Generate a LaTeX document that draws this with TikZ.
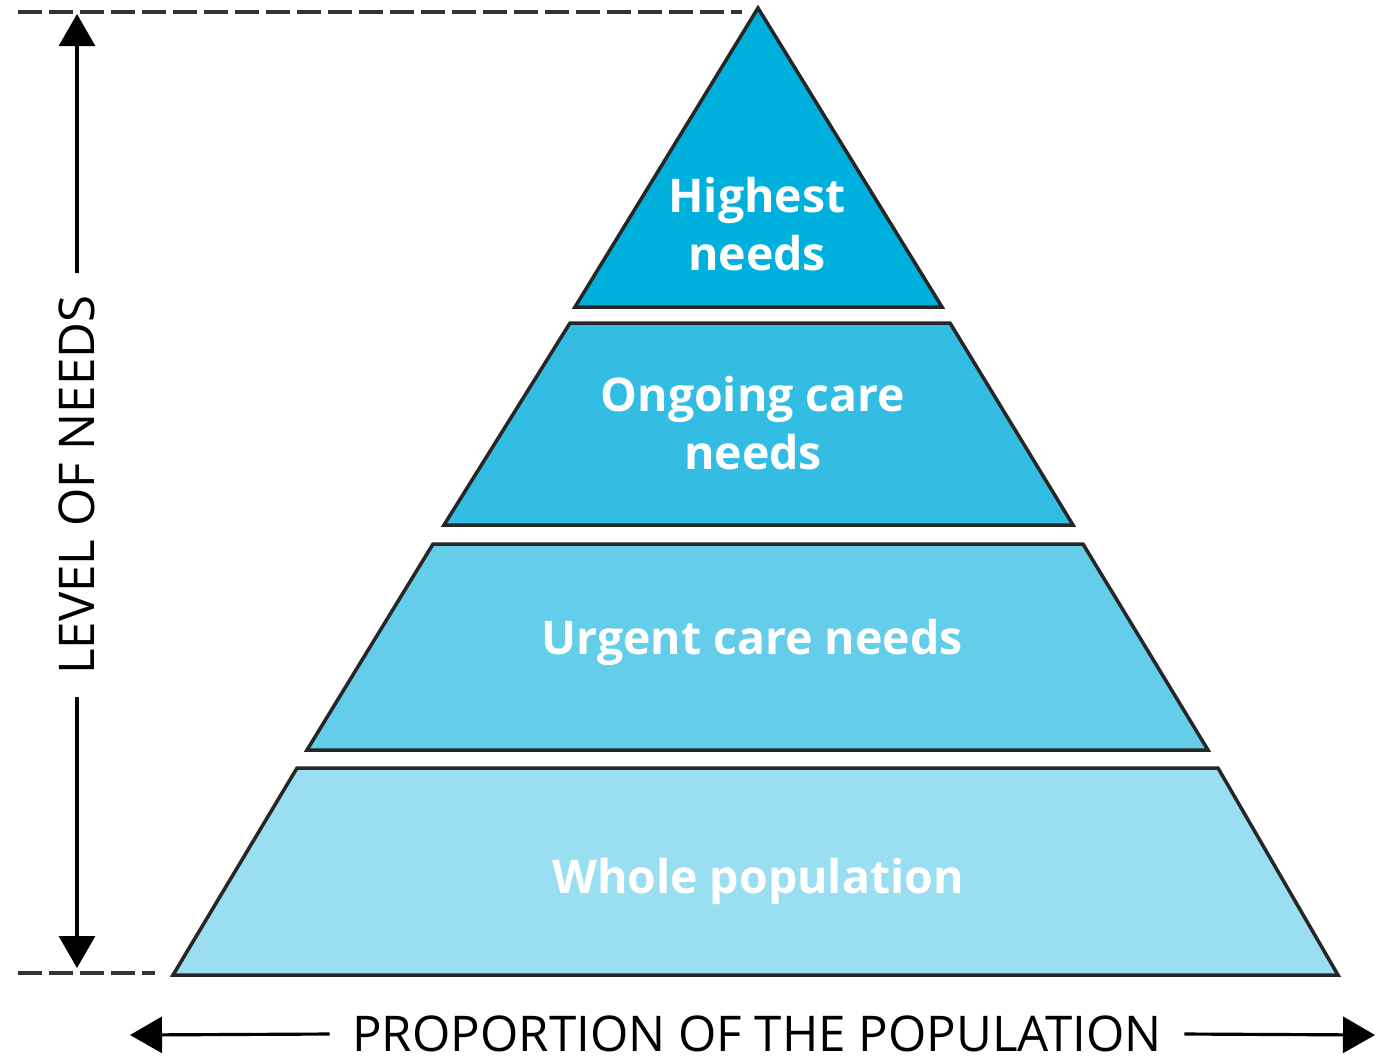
\documentclass[tikz,border=0pt]{standalone}
\usepackage{fontspec}
\setmainfont{Open Sans}
\usetikzlibrary{arrows.meta}

\definecolor{tierA}{HTML}{00B0DC}
\definecolor{tierB}{HTML}{33BDE2}
\definecolor{tierC}{HTML}{63CDEA}
\definecolor{tierD}{HTML}{9ADFF1}

\begin{document}
\begin{tikzpicture}[x=0.01cm, y=-0.01cm,
    tier/.style={draw=black!85, line width=1pt, line join=miter},
    lbl/.style={text=white, font=\fontsize{13.2}{16.5}\selectfont\bfseries, align=center},
    axis/.style={font=\fontsize{14}{17}\selectfont, text=black, inner xsep=0.22cm, inner ysep=0.05cm},
    dim/.style={line width=0.9pt, -{Triangle[length=0.32cm,width=0.36cm]}},
    guide/.style={line width=0.9pt, black!80, dash pattern=on 0.24cm off 0.07cm}]
    \useasboundingbox (0,0) rectangle (1378,1062);
    % pyramid tiers
    \draw[tier, fill=tierA] (758,8) -- (942,307) -- (575,307) -- cycle;
    \draw[tier, fill=tierB] (570,323) -- (950,323) -- (1073,525) -- (444,525) -- cycle;
    \draw[tier, fill=tierC] (433,544) -- (1083,544) -- (1208,750) -- (307,750) -- cycle;
    \draw[tier, fill=tierD] (297,768) -- (1218,768) -- (1338,975) -- (173,975) -- cycle;
    \node[lbl] (high) at (757,224) {Highest\\needs};
    \node[lbl] (ongoing) at (753,423) {Ongoing care\\needs};
    \node[lbl] (urgent) at (752,642) {Urgent care needs};
    \node[lbl] (whole) at (758,881) {Whole population};
    % guides
    \coordinate (gtopl) at (18,12);
    \coordinate (gtopr) at (742,12);
    \coordinate (gbotl) at (18,973);
    \coordinate (gbotr) at (155,973);
    \draw[guide] (gtopl) -- (gtopr);
    \draw[guide] (gbotl) -- (gbotr);
    % axes
    \coordinate (lvtop) at (77,14);
    \coordinate (lvbot) at (77,968);
    \coordinate (pleft) at (130,1035);
    \coordinate (pright) at (1375,1035);
    \node[axis, rotate=90] (level) at (77,485) {LEVEL OF NEEDS};
    \node[axis] (prop) at (757,1034) {PROPORTION OF THE POPULATION};
    \draw[dim] (level.east) -- (lvtop);
    \draw[dim] (level.west) -- (lvbot);
    \draw[dim] (prop.west) -- (pleft);
    \draw[dim] (prop.east) -- (pright);
\end{tikzpicture}
\end{document}
